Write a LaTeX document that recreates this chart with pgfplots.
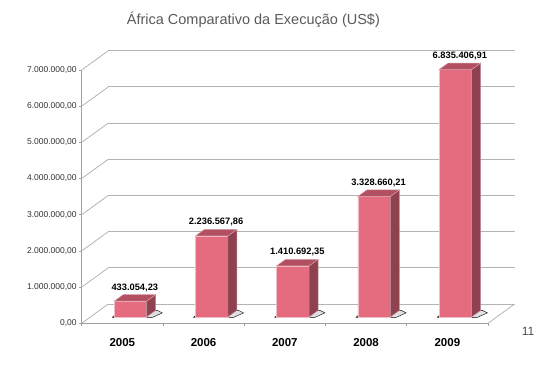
\documentclass[border=0pt]{standalone}
\usepackage{pgfplots}
\pgfplotsset{compat=1.18}
\usepackage{pgfplotstable}
\usepackage{fontspec}
\setmainfont{Liberation Sans}
\definecolor{barfront}{HTML}{E56C7F}
\definecolor{barside}{HTML}{8F4150}
\definecolor{bartop}{HTML}{B24F60}
\definecolor{gridc}{HTML}{B4B4B4}
\definecolor{axisc}{HTML}{A0A0A0}
\pgfplotstableread{
x y lab
0 433054.23 433.054,23
1 2236567.86 2.236.567,86
2 1410692.35 1.410.692,35
3 3328660.21 3.328.660,21
4 6835406.91 6.835.406,91
}\data
\begin{document}
\begin{tikzpicture}
\path[use as bounding box] (-81.7pt,-47.7pt) rectangle (467.3pt,323.3pt);
\pgfplotsset{base/.style={scale only axis, width=406.3pt, height=253.3pt,
  xmin=-0.5, xmax=4.5, ymin=0, ymax=7000000, scaled y ticks=false}}
% back wall
\begin{axis}[base, at={(26.6pt,19.3pt)}, anchor=south west,
  axis line style={draw=none}, xtick=\empty,
  ytick={0,1000000,2000000,3000000,4000000,5000000,6000000,7000000},
  yticklabels={}, major tick length=0pt, ymajorgrids,
  grid style={gridc, line width=0.8pt}]
\end{axis}
% front frame
\begin{axis}[base, at={(0pt,0pt)}, anchor=south west, clip=false,
  axis lines*=left, axis line style={axisc, line width=0.8pt},
  xtick={0,1,2,3,4}, xticklabels={2005,2006,2007,2008,2009},
  minor xtick={-0.5,0.5,1.5,2.5,3.5,4.5},
  ytick={0,1000000,2000000,3000000,4000000,5000000,6000000,7000000},
  tick align=outside, major tick length=3pt, minor tick length=3pt,
  tick style={axisc, line width=0.8pt}, major x tick style={draw=none},
  xticklabel style={font=\fontsize{11.5}{12}\selectfont\bfseries, anchor=base, yshift=-20pt},
  yticklabel style={font=\fontsize{8.5}{10}\selectfont, text=black!80, xshift=1.5pt,
    /pgf/number format/.cd, fixed, fixed zerofill, precision=2, 1000 sep={.}, dec sep={,}, assume math mode=true}]
\pgfplotsinvokeforeach{0,1,2,3,4,5,6,7}{
  \draw[gridc, line width=0.8pt] (axis cs:-0.5,#1000000) -- ++(26.6pt,19.3pt);
}
\draw[gridc, line width=0.8pt] (axis cs:4.5,0) -- ++(26.6pt,19.3pt);
\end{axis}
% soft shadows on the floor (own axis so they lie under the bars)
\begin{axis}[base, at={(8pt,6.4pt)}, anchor=south west, hide axis, clip=false]
\addplot[scatter, only marks, mark=*, mark size=0.1pt, mark options={opacity=0},
  visualization depends on={rawy \as \yval},
  scatter/@pre marker code/.code={%
    \fill[fill=black!12, opacity=1] (axis direction cs:0,-\yval) ++(-18pt,-0.5pt) -- ++(40pt,0pt) -- ++(10pt,4.5pt) -- ++(-5pt,2.5pt) -- ++(-38pt,0pt) -- cycle;
  },
  scatter/@post marker code/.code={}] table[x=x,y=y] {\data};
\end{axis}
% bars
\begin{axis}[base, at={(8pt,6.4pt)}, anchor=south west, hide axis, clip=false]
\addplot[ybar, bar width=32.5pt, fill=barfront, draw=white!55!barfront, line width=0.6pt,
  point meta=explicit symbolic, nodes near coords,
  nodes near coords style={font=\fontsize{9.3}{10}\selectfont\bfseries, text=black, anchor=base, xshift=4.5pt, yshift=11pt}]
  table[x=x,y=y,meta=lab] {\data};
\addplot[scatter, only marks, mark=*, mark size=0.1pt, mark options={opacity=0},
  visualization depends on={rawy \as \yval},
  scatter/@pre marker code/.code={%
    \filldraw[fill=barside, draw=white!40!barside, line width=0.5pt, opacity=1] (16.25pt,0pt) -- ++(9pt,6.5pt) -- ++(axis direction cs:0,-\yval) -- ++(-9pt,-6.5pt) -- cycle;
    \filldraw[fill=bartop, draw=white!45!bartop, line width=0.5pt, opacity=1] (-16.25pt,0pt) -- (16.25pt,0pt) -- ++(9pt,6.5pt) -- ++(-32.5pt,0pt) -- cycle;
  },
  scatter/@post marker code/.code={}] table[x=x,y=y] {\data};
\end{axis}
\node[font=\fontsize{14.5}{16}\selectfont, text=black!65] at (171.7pt,303.3pt) {África Comparativo da Execução (US\$)};
\node[font=\fontsize{12}{13}\selectfont, text=black!70] at (446.3pt,-7.7pt) {11};
\end{tikzpicture}
\end{document}
